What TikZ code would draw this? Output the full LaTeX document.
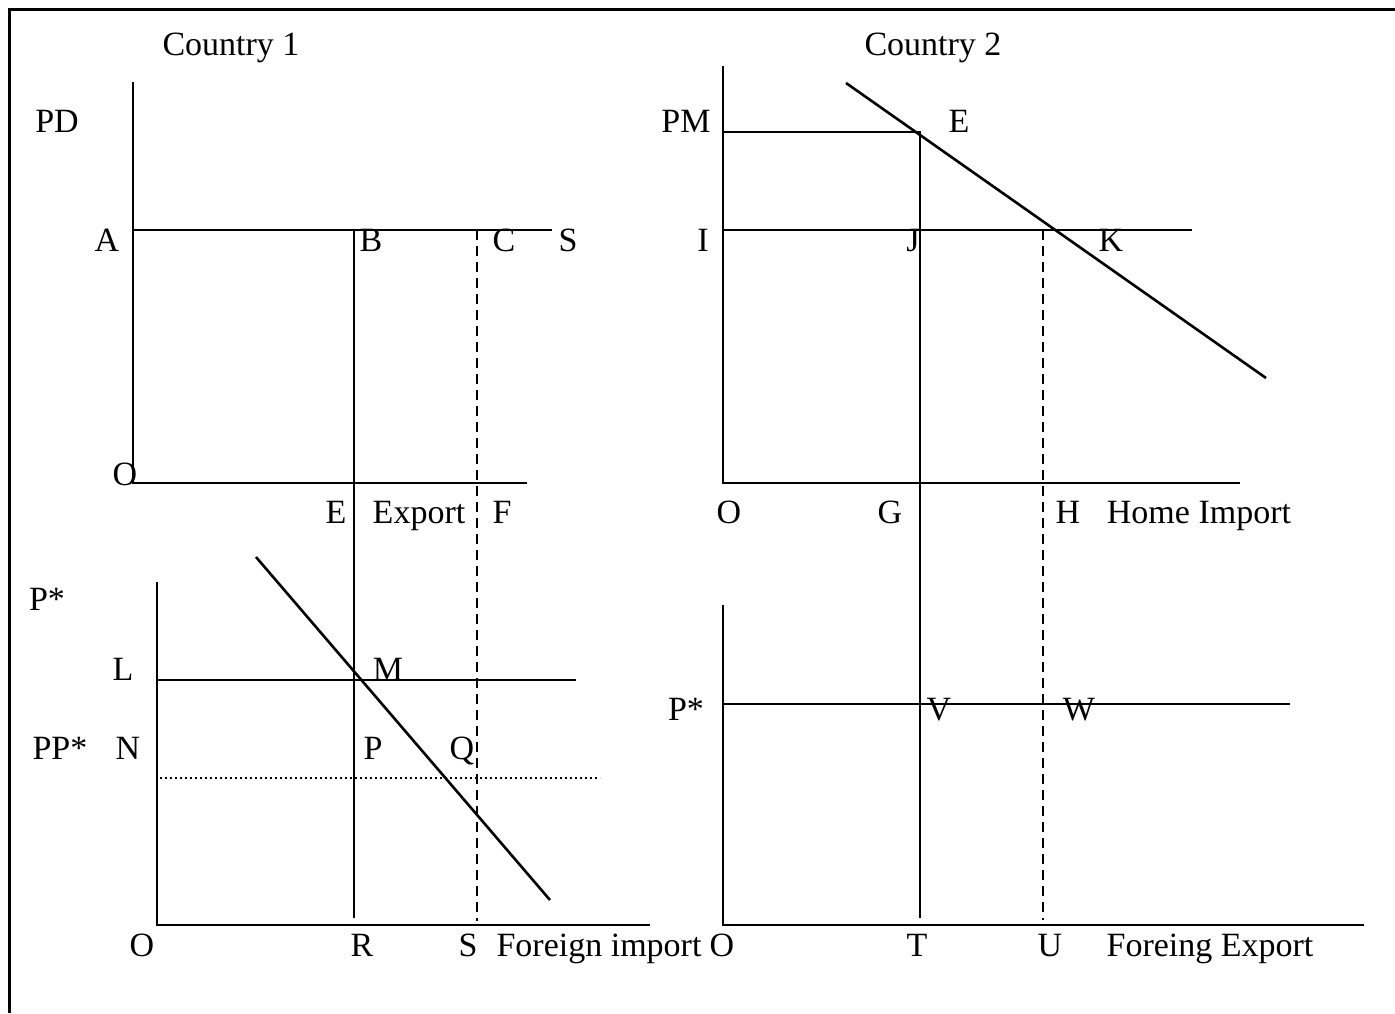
\documentclass[tikz,border=0pt]{standalone}
\usepackage{fontspec}
\setmainfont{Liberation Serif}
\begin{document}
\begin{tikzpicture}[x=1pt,y=-1pt,line width=2.6pt,
  lbl/.style={anchor=base,inner sep=0pt,font=\fontsize{34}{40}\selectfont},
  dashln/.style={dash pattern=on 10pt off 6pt},
  dotln/.style={line width=2pt,dash pattern=on 2pt off 3pt},
  framel/.style={line width=3pt}]
\useasboundingbox (0,0) rectangle (1395,1013);
% frame
\coordinate (fTL) at (9,9);
\coordinate (fTR) at (1395,9);
\coordinate (fBL) at (9,1013);
\draw[framel] (fTR) -- (fTL) -- (fBL);
% panel 1
\coordinate (a1top) at (133,82);
\coordinate (o1) at (133,483);
\coordinate (x1end) at (527,483);
\coordinate (pA) at (133,230);
\coordinate (pSend) at (552,230);
\coordinate (pB) at (354,230);
\coordinate (pRb) at (354,918);
\coordinate (pC) at (477,230);
\coordinate (pSb) at (477,921);
\draw (a1top) -- (o1) -- (x1end);
\draw (pA) -- (pSend);
\draw (pB) -- (pRb);
\draw[dashln] (pC) -- (pSb);
% panel 3
\coordinate (y3top) at (157,582);
\coordinate (o3) at (157,925);
\coordinate (x3end) at (650,925);
\coordinate (pL) at (157,680);
\coordinate (pLend) at (576,680);
\coordinate (d3a) at (256,557);
\coordinate (d3b) at (550,900);
\coordinate (pN) at (160,778);
\coordinate (pNend) at (600,778);
\draw (y3top) -- (o3) -- (x3end);
\draw (pL) -- (pLend);
\draw (d3a) -- (d3b);
\draw[dotln] (pN) -- (pNend);
% panel 2
\coordinate (y2top) at (723,66);
\coordinate (o2) at (723,483);
\coordinate (x2end) at (1240,483);
\coordinate (pPM) at (723,132);
\coordinate (pE) at (920,132);
\coordinate (pTb) at (920,918);
\coordinate (pI) at (723,230);
\coordinate (pIend) at (1192,230);
\coordinate (pHd) at (1043,230);
\coordinate (pUb) at (1043,920);
\coordinate (d2a) at (846,83);
\coordinate (d2b) at (1266,378);
\draw (y2top) -- (o2) -- (x2end);
\draw (pPM) -- (pE) -- (pTb);
\draw (pI) -- (pIend);
\draw[dashln] (pHd) -- (pUb);
\draw (d2a) -- (d2b);
% panel 4
\coordinate (y4top) at (723,605);
\coordinate (o4) at (723,925);
\coordinate (x4end) at (1364,925);
\coordinate (pPs) at (723,704);
\coordinate (pPsend) at (1290,704);
\draw (y4top) -- (o4) -- (x4end);
\draw (pPs) -- (pPsend);
% labels panel 1
\node[lbl] (tc1) at (231,55) {Country 1};
\node[lbl] (tPD) at (57,132) {PD};
\node[lbl] (tA) at (107,251) {A};
\node[lbl] (tB) at (371,251) {B};
\node[lbl] (tC) at (504,251) {C};
\node[lbl] (tS) at (568,251) {S};
\node[lbl] (tO1) at (125,485) {O};
\node[lbl] (tE1) at (336,523) {E};
\node[lbl] (tExp) at (419,523) {Export};
\node[lbl] (tF) at (502,523) {F};
% labels panel 2
\node[lbl] (tc2) at (933,55) {Country 2};
\node[lbl] (tPM) at (686,132) {PM};
\node[lbl] (tE2) at (959,132) {E};
\node[lbl] (tI) at (703,251) {I};
\node[lbl] (tJ) at (913,251) {J};
\node[lbl] (tK) at (1111,251) {K};
\node[lbl] (tO2) at (729,523) {O};
\node[lbl] (tG) at (890,523) {G};
\node[lbl] (tH) at (1068,523) {H};
\node[lbl] (tHI) at (1199,523) {Home Import};
% labels panel 3
\node[lbl] (tPs1) at (47,610) {P*};
\node[lbl] (tL) at (123,680) {L};
\node[lbl] (tM) at (388,680) {M};
\node[lbl] (tPPs) at (60,759) {PP*};
\node[lbl] (tN) at (128,759) {N};
\node[lbl] (tP) at (373,759) {P};
\node[lbl] (tQ) at (462,759) {Q};
\node[lbl] (tO3) at (142,956) {O};
\node[lbl] (tR) at (362,956) {R};
\node[lbl] (tS3) at (468,956) {S};
\node[lbl] (tFI) at (599,956) {Foreign import};
% labels panel 4
\node[lbl] (tPs2) at (686,720) {P*};
\node[lbl] (tV) at (939,720) {V};
\node[lbl] (tW) at (1079,720) {W};
\node[lbl] (tO4) at (722,956) {O};
\node[lbl] (tT) at (917,956) {T};
\node[lbl] (tU) at (1050,956) {U};
\node[lbl] (tFE) at (1210,956) {Foreing Export};
\end{tikzpicture}
\end{document}
